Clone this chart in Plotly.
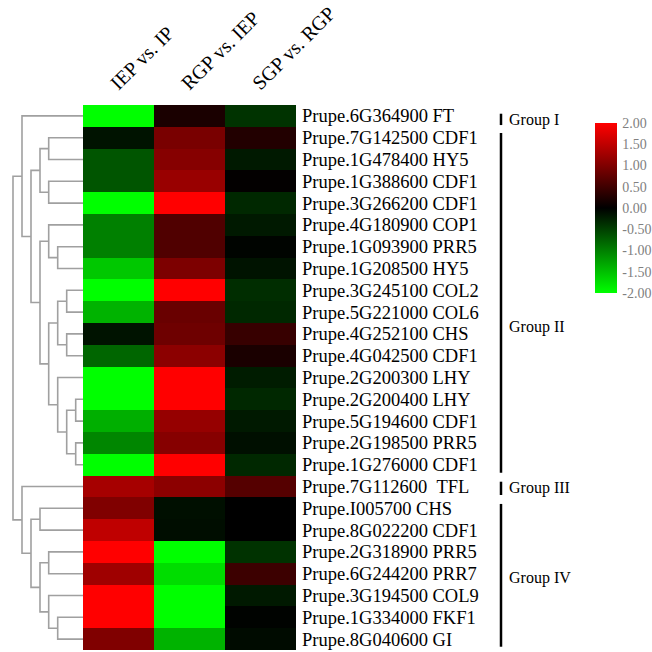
import plotly.graph_objects as go

# ---------------- data ----------------
columns = ["IEP vs. IP", "RGP vs. IEP", "SGP vs. RGP"]
genes = [
    "Prupe.6G364900 FT", "Prupe.7G142500 CDF1", "Prupe.1G478400 HY5", "Prupe.1G388600 CDF1",
    "Prupe.3G266200 CDF1", "Prupe.4G180900 COP1", "Prupe.1G093900 PRR5", "Prupe.1G208500 HY5",
    "Prupe.3G245100 COL2", "Prupe.5G221000 COL6", "Prupe.4G252100 CHS", "Prupe.4G042500 CDF1",
    "Prupe.2G200300 LHY", "Prupe.2G200400 LHY", "Prupe.5G194600 CDF1", "Prupe.2G198500 PRR5",
    "Prupe.1G276000 CDF1", "Prupe.7G112600\u00a0\u00a0TFL", "Prupe.I005700 CHS", "Prupe.8G022200 CDF1",
    "Prupe.2G318900 PRR5", "Prupe.6G244200 PRR7", "Prupe.3G194500 COL9", "Prupe.1G334000 FKF1",
    "Prupe.8G040600 GI",
]
iep_vs_ip = [-2.0, -0.15, -0.67, -0.67, -2.0, -1.0, -1.0, -1.57, -2.0, -1.4, -0.15, -0.8,
             -2.0, -2.0, -1.37, -1.05, -2.0, 1.3, 1.0, 1.5, 2.0, 1.25, 2.0, 2.0, 1.0]
rgp_vs_iep = [0.2, 0.95, 1.05, 1.2, 2.0, 0.63, 0.63, 0.98, 2.0, 0.82, 0.86, 1.1,
              2.0, 2.0, 1.18, 1.05, 2.0, 1.1, -0.12, -0.1, -2.0, -1.73, -2.0, -2.0, -1.4]
sgp_vs_rgp = [-0.4, 0.27, -0.2, 0.02, -0.31, -0.2, -0.03, -0.15, -0.35, -0.31, 0.43, 0.2,
              -0.22, -0.31, -0.2, -0.12, -0.31, 0.67, 0.0, 0.0, -0.39, 0.47, -0.2, -0.02, -0.09]

# dendrogram linkage (scipy-style: leaves 0..24, internal node k = 25 + index)
link_left = [6, 5, 8, 10, 27, 13, 15, 30, 12, 29, 26, 1, 3, 36, 38, 0, 18, 20, 23, 22, 42, 41, 17, 40]
link_right = [7, 25, 9, 11, 28, 14, 16, 31, 32, 33, 34, 2, 4, 37, 35, 39, 19, 21, 24, 43, 44, 45, 46, 47]
link_height = [25.3, 34.3, 16.3, 16.3, 25.3, 7.3, 7.3, 16.3, 25.3, 34.3, 43, 34.3, 34.3, 43, 52, 61,
               43, 34.3, 25.3, 34.3, 43, 52, 61, 70]

groups = ["Group I", "Group II", "Group III", "Group IV"]
group_start = [-0.1, 0.78, 16.78, 17.8]
group_end = [0.42, 16.37, 17.39, 24.35]
group_label_y = [0.2, 9.7, 17.05, 21.2]

colorbar_ticks = [2.0, 1.5, 1.0, 0.5, 0.0, -0.5, -1.0, -1.5, -2.0]

# ---------------- figure ----------------
W = H = 652
FONT = "Liberation Serif, Times New Roman, serif"
n = len(genes)
rows = list(range(n))
z = [[iep_vs_ip[i], rgp_vs_iep[i], sgp_vs_rgp[i]] for i in rows]

fig = go.Figure()
fig.add_trace(go.Heatmap(
    z=z, x=[0, 1, 2], y=rows,
    zmin=-2, zmax=2,
    colorscale=[[0, "#00ff00"], [0.5, "#000000"], [1, "#ff0000"]],
    hoverinfo="skip",
    colorbar=dict(
        x=595 / W, xanchor="left", y=1 - 123 / H, yanchor="top",
        len=170 / H, lenmode="fraction", thickness=22, thicknessmode="pixels",
        xpad=0, ypad=0, outlinewidth=0, ticks="outside", ticklen=3,
        tickcolor="rgba(0,0,0,0)",
        tickvals=colorbar_ticks, ticktext=[f"{v:.2f}" for v in colorbar_ticks],
        tickfont=dict(family=FONT, size=14, color="#808080"),
    ),
))

# dendrogram coordinates computed from linkage
ypos = {i: float(i) for i in rows}
hpos = {i: 0.0 for i in rows}
dx, dy = [], []
for k, (a, b, h) in enumerate(zip(link_left, link_right, link_height)):
    node = n + k
    ypos[node] = (ypos[a] + ypos[b]) / 2
    hpos[node] = h
    dx += [hpos[a], h, h, hpos[b], None]
    dy += [ypos[a], ypos[a], ypos[b], ypos[b], None]
fig.add_trace(go.Scatter(x=dx, y=dy, xaxis="x2", yaxis="y", mode="lines",
                         line=dict(color="#a0a0a0", width=1.6), hoverinfo="skip",
                         showlegend=False))

# group bars and labels
for g, s, e, ly in zip(groups, group_start, group_end, group_label_y):
    fig.add_shape(type="line", xref="paper", yref="y", x0=501 / W, x1=501 / W, y0=s, y1=e,
                  line=dict(color="black", width=2.5))
    fig.add_annotation(xref="paper", yref="y", x=507 / W, y=ly, text=g, showarrow=False,
                       xanchor="left", yanchor="middle",
                       font=dict(family=FONT, size=16, color="black"))

fig.update_layout(
    width=W, height=H, margin=dict(l=0, r=0, t=0, b=0, autoexpand=False),
    paper_bgcolor="white", plot_bgcolor="white", showlegend=False,
    xaxis=dict(domain=[83 / W, 296 / W], range=[-0.5, 2.5], side="top",
               tickvals=[0, 1, 2], ticktext=columns, tickangle=-45, ticks="",
               ticklabelstandoff=6, ticklabelshift=-7, automargin=False,
               showgrid=False, zeroline=False, showline=False,
               tickfont=dict(family=FONT, size=20, color="black"), anchor="y"),
    xaxis2=dict(domain=[0, 83 / W], range=[83, 0], showticklabels=False, ticks="",
                showgrid=False, zeroline=False, showline=False, anchor="y"),
    yaxis=dict(domain=[1 - 650 / H, 1 - 105 / H], range=[n - 0.5, -0.5], side="right",
               tickvals=rows, ticktext=genes, ticks="", ticklabelstandoff=5, automargin=False,
               showgrid=False, zeroline=False, showline=False,
               tickfont=dict(family=FONT, size=18.5, color="black"), anchor="x"),
)

fig.write_html("out.html", config={"displayModeBar": False},
               post_script="document.body.style.margin='0';document.body.style.overflow='hidden';")
